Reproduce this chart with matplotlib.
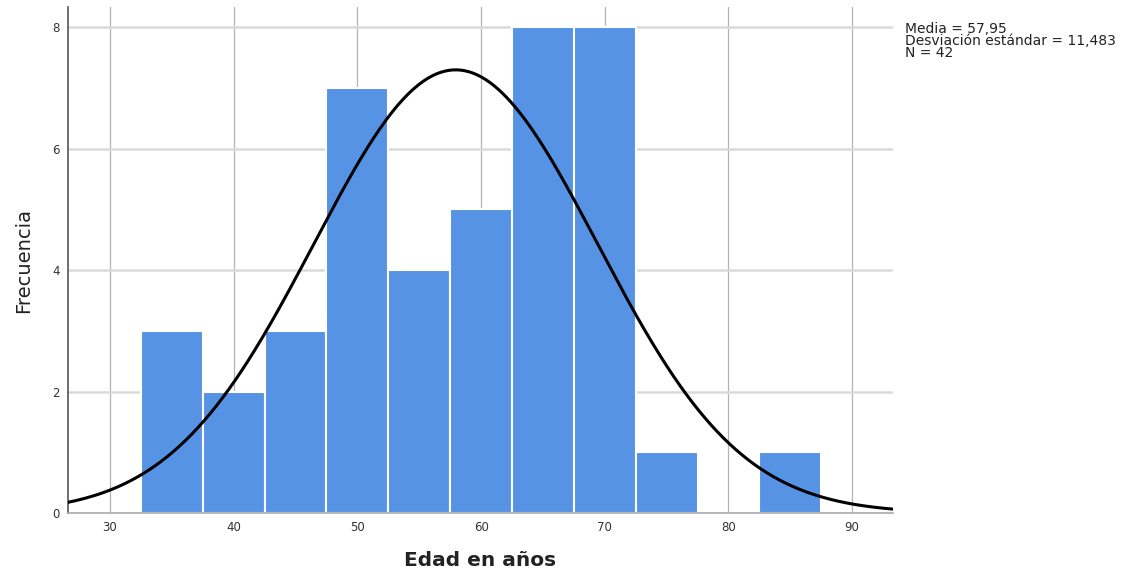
import numpy as np
import matplotlib
matplotlib.use("Agg")
import matplotlib.pyplot as plt

# histogram of ages, bin width 5
bin_edges = [32.5, 37.5, 42.5, 47.5, 52.5, 57.5, 62.5, 67.5, 72.5, 77.5, 82.5, 87.5]
counts = [3, 2, 3, 7, 4, 5, 8, 8, 1, 0, 1]
mean_age = 57.95
std_age = 11.483
n_total = 42
x_ticks = [30, 40, 50, 60, 70, 80, 90]
y_ticks = [0, 2, 4, 6, 8]

fig = plt.figure(figsize=(11.4, 5.71), dpi=100)
ax = fig.add_axes([0.0596, 0.1016, 0.7237, 0.8861])

lefts = bin_edges[:-1]
widths = np.diff(bin_edges)
ax.bar(lefts, counts, width=widths, align="edge", color="#5793e5",
       edgecolor="white", linewidth=1.5, zorder=2)

# fitted normal curve scaled to counts
xs = np.linspace(26.6, 93.3, 400)
bw = bin_edges[1] - bin_edges[0]
ys = n_total * bw / (std_age * np.sqrt(2 * np.pi)) * np.exp(-0.5 * ((xs - mean_age) / std_age) ** 2)
ax.plot(xs, ys, color="black", linewidth=2.2, zorder=3)

ax.set_xlim(26.6, 93.3)
ax.set_ylim(0, 8.33)
ax.set_xticks(x_ticks)
ax.set_yticks(y_ticks)
ax.tick_params(length=0, labelsize=8.5, colors="#333333", pad=6)

for x in x_ticks:
    ax.axvline(x, color="#b4b4b4", linewidth=0.9, zorder=1)
for y in y_ticks[1:]:
    ax.axhline(y, color="#dadada", linewidth=1.8, zorder=1)

for side in ["top", "right"]:
    ax.spines[side].set_visible(False)
ax.spines["left"].set_color("#555555")
ax.spines["left"].set_linewidth(1.2)
ax.spines["bottom"].set_color("#aaaaaa")
ax.spines["bottom"].set_linewidth(1.2)

ax.set_xlabel("Edad en años", fontsize=14.5, fontweight="bold", color="#222222", labelpad=12)
ax.set_ylabel("Frecuencia", fontsize=14, fontweight="medium", color="#222222", labelpad=14)

stats = f"Media = {mean_age:.2f}\nDesviación estándar = {std_age:.3f}\nN = {n_total}".replace(".", ",")
fig.text(0.794, 0.962, stats, fontsize=10, color="#222222", va="top", ha="left", linespacing=0.85)

fig.savefig("out.png", dpi=100)
